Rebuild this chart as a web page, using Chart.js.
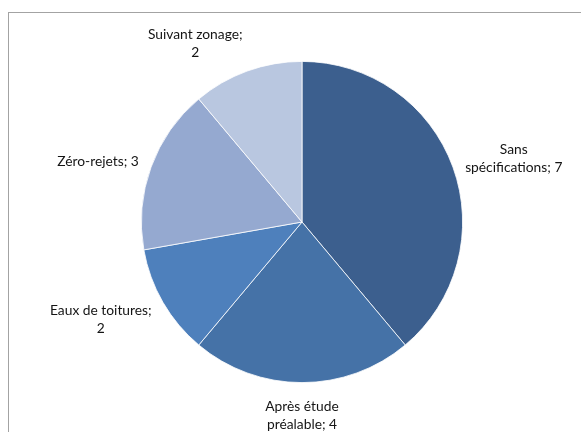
<!DOCTYPE html>
<html>
<head>
<meta charset="utf-8">
<script src="https://cdn.jsdelivr.net/npm/chart.js@4"></script>
<style>
  html, body { margin: 0; padding: 0; background: #fff; overflow: hidden; }
  #wrap { position: relative; width: 581px; height: 432px; }
  #frame { position: absolute; left: 8px; top: 12px; width: 620px; height: 480px; border: 1px solid #a3a3a3; box-sizing: border-box; }
  canvas { position: absolute; left: 0; top: 0; }
</style>
</head>
<body>
<div id="wrap">
  <div id="frame"></div>
  <canvas id="c" width="581" height="432"></canvas>
</div>
<script>
const categories = ["Sans spécifications", "Après étude préalable", "Eaux de toitures", "Zéro-rejets", "Suivant zonage"];
const values = [7, 4, 2, 3, 2];
const sliceColors = ["#3C5F8E", "#4572A7", "#4E80BC", "#95A9D0", "#B9C7E0"];

const FONT = '13.8px Lato, "Open Sans", sans-serif';
const WRAP_WIDTH = 106;
const LINE_H = 18;
const GAP = 13;

function wrapText(ctx, text, maxW) {
  const words = text.split(' ');
  const lines = [];
  let cur = '';
  for (const w of words) {
    const t = cur ? cur + ' ' + w : w;
    if (cur && ctx.measureText(t).width > maxW) { lines.push(cur); cur = w; }
    else cur = t;
  }
  if (cur) lines.push(cur);
  return lines;
}

const labelPlugin = {
  id: 'outsideLabels',
  afterDatasetsDraw(chart) {
    const ctx = chart.ctx;
    const meta = chart.getDatasetMeta(0);
    ctx.save();
    ctx.font = FONT;
    ctx.fillStyle = '#141414';
    ctx.textAlign = 'center';
    ctx.textBaseline = 'middle';
    meta.data.forEach((arc, i) => {
      const p = arc.getProps(['x', 'y', 'startAngle', 'endAngle', 'outerRadius'], true);
      const mid = (p.startAngle + p.endAngle) / 2;
      const dx = Math.cos(mid), dy = Math.sin(mid);
      const text = categories[i] + '; ' + values[i];
      const lines = wrapText(ctx, text, WRAP_WIDTH);
      const w = Math.max(...lines.map(l => ctx.measureText(l).width));
      const h = lines.length * LINE_H;
      const ax = p.x + dx * (p.outerRadius + GAP);
      const ay = p.y + dy * (p.outerRadius + GAP);
      const sx = Math.max(-1, Math.min(1, dx * 3));
      const cx = ax + sx * w / 2;
      const cy = ay + dy * h / 2 + 2;
      lines.forEach((l, k) => {
        ctx.fillText(l, cx, cy - h / 2 + LINE_H * (k + 0.5));
      });
    });
    ctx.restore();
  }
};

new Chart(document.getElementById('c'), {
  type: 'pie',
  data: {
    labels: categories,
    datasets: [{
      data: values,
      backgroundColor: sliceColors,
      borderColor: '#ffffff',
      borderWidth: 0.8
    }]
  },
  options: {
    responsive: false,
    animation: false,
    devicePixelRatio: 1,
    layout: { padding: { top: 61, bottom: 49, left: 141, right: 118 } },
    plugins: { legend: { display: false }, tooltip: { enabled: false } }
  },
  plugins: [labelPlugin]
});
</script>
</body>
</html>
